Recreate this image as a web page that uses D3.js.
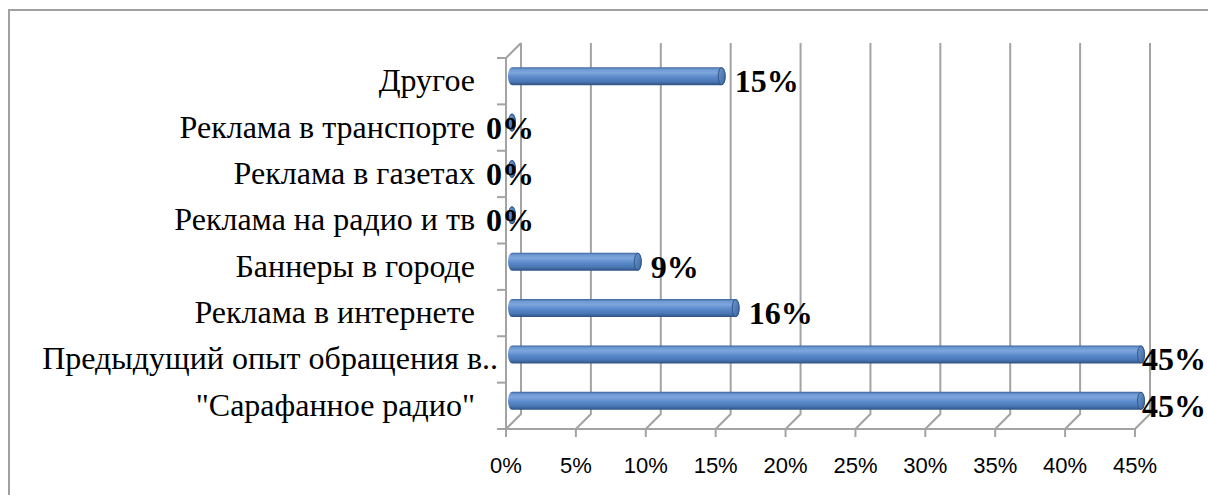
<!DOCTYPE html>
<html>
<head>
<meta charset="utf-8">
<script src="https://cdn.jsdelivr.net/npm/d3@7"></script>
<style>
  body { margin: 0; background: #fff; }
  svg { display: block; }
</style>
</head>
<body>
<svg id="chart" width="1208" height="495"></svg>
<script>
// Sources of information (bottom to top), share of respondents, %
const categories = [
  '"Сарафанное радио"',
  'Предыдущий опыт обращения в..',
  'Реклама в интернете',
  'Баннеры в городе',
  'Реклама на радио и тв',
  'Реклама в газетах',
  'Реклама в транспорте',
  'Другое'
];
const values = [45, 45, 16, 9, 0, 0, 0, 15];
const valueLabels = ['45%', '45%', '16%', '9%', '0%', '0%', '0%', '15%'];
const xTicks = [0, 5, 10, 15, 20, 25, 30, 35, 40, 45];
const xTickLabels = ['0%', '5%', '10%', '15%', '20%', '25%', '30%', '35%', '40%', '45%'];

const W = 1208, H = 495;
const svg = d3.select('#chart');

// plot geometry (front face of the 3-D box)
const plot = { left: 506, right: 1135, top: 58, bottom: 429 };
const depth = { dx: 15, dy: -15 };   // offset of the back wall
const mid = { dx: 6, dy: -5 };       // where the bars sit inside the depth

const x = d3.scaleLinear().domain([0, 45]).range([plot.left, plot.right]);
const y = d3.scaleBand().domain(categories).range([plot.bottom, plot.top]);
const bw = y.bandwidth();

// outer chart frame
svg.append('rect')
  .attr('x', 9).attr('y', 10).attr('width', W + 20).attr('height', H + 20)
  .attr('fill', 'none').attr('stroke', '#a0a0a0').attr('stroke-width', 2);

// shading for the cylinders
const defs = svg.append('defs');
const body = defs.append('linearGradient').attr('id', 'cyl')
  .attr('x1', 0).attr('y1', 0).attr('x2', 0).attr('y2', 1);
[[0, '#3a639a'], [0.12, '#6e98d3'], [0.3, '#7ea6dd'], [0.55, '#5b8acb'],
 [0.8, '#4a77b5'], [1, '#2e5282']].forEach(([o, c]) =>
  body.append('stop').attr('offset', o).attr('stop-color', c));
const cap = defs.append('linearGradient').attr('id', 'cap')
  .attr('x1', 0).attr('y1', 0).attr('x2', 1).attr('y2', 1);
[[0, '#6f98d0'], [1, '#3c659f']].forEach(([o, c]) =>
  cap.append('stop').attr('offset', o).attr('stop-color', c));

const grid = svg.append('g')
  .attr('fill', 'none').attr('stroke', '#a3a3a3').attr('stroke-width', 2);

// back-wall gridlines, floor diagonals and bottom ticks
xTicks.forEach(t => {
  const xf = x(t), xb = xf + depth.dx;
  grid.append('path').attr('d',
    `M${xb},${plot.top + depth.dy} L${xb},${plot.bottom + depth.dy} L${xf},${plot.bottom} L${xf},${plot.bottom + 8}`);
});
// floor front edge
grid.append('line')
  .attr('x1', plot.left - 8).attr('x2', plot.right)
  .attr('y1', plot.bottom).attr('y2', plot.bottom);
// left wall front edge and its top diagonal
grid.append('path').attr('d',
  `M${plot.left},${plot.bottom} L${plot.left},${plot.top} L${plot.left + depth.dx},${plot.top + depth.dy}`);
// category ticks
d3.range(categories.length + 1).forEach(i => {
  const yy = plot.bottom - i * bw;
  grid.append('line')
    .attr('x1', plot.left - 9).attr('x2', plot.left)
    .attr('y1', yy).attr('y2', yy);
});

// cylinders
const r = 9, rx = 4;
const bars = svg.append('g');
categories.forEach((c, i) => {
  const cy = y(c) + bw / 2 + mid.dy;
  const x0 = x(0) + mid.dx, x1 = x(values[i]) + mid.dx;
  bars.append('path')
    .attr('d', `M${x0},${cy - r} L${x1},${cy - r} A${rx},${r} 0 0 1 ${x1},${cy + r} L${x0},${cy + r} A${rx},${r} 0 0 1 ${x0},${cy - r} Z`)
    .attr('fill', 'url(#cyl)');
  bars.append('ellipse')
    .attr('cx', x1).attr('cy', cy).attr('rx', rx - 0.5).attr('ry', r - 0.5)
    .attr('fill', 'url(#cap)').attr('stroke', '#2f5585').attr('stroke-width', 1);
});

// category labels
const catG = svg.append('g')
  .attr('font-family', '"Liberation Serif", "Times New Roman", serif')
  .attr('font-size', 32).attr('fill', '#000');
categories.forEach(c => {
  const truncated = c.endsWith('..');
  catG.append('text')
    .attr('x', truncated ? 498 : 475)
    .attr('y', y(c) + bw / 2 + 10)
    .attr('text-anchor', 'end')
    .text(c);
});

// value labels
const valG = svg.append('g')
  .attr('font-family', '"Liberation Serif", "Times New Roman", serif')
  .attr('font-size', 32).attr('font-weight', 'bold').attr('fill', '#000');
categories.forEach((c, i) => {
  const v = values[i];
  const t = valG.append('text')
    .attr('y', y(c) + bw / 2 + 11)
    .text(valueLabels[i]);
  if (v === 0) {
    t.attr('x', x(0) + 4).attr('text-anchor', 'middle');
  } else {
    const len = t.node().getComputedTextLength();
    t.attr('x', Math.min(x(v) + 19, W - len - 2));
  }
});

// x-axis labels
const axG = svg.append('g')
  .attr('font-family', '"Liberation Sans", Arial, sans-serif')
  .attr('font-size', 22).attr('fill', '#000');
xTicks.forEach((t, i) => {
  axG.append('text')
    .attr('x', x(t)).attr('y', 473)
    .attr('text-anchor', 'middle')
    .text(xTickLabels[i]);
});
</script>
</body>
</html>
